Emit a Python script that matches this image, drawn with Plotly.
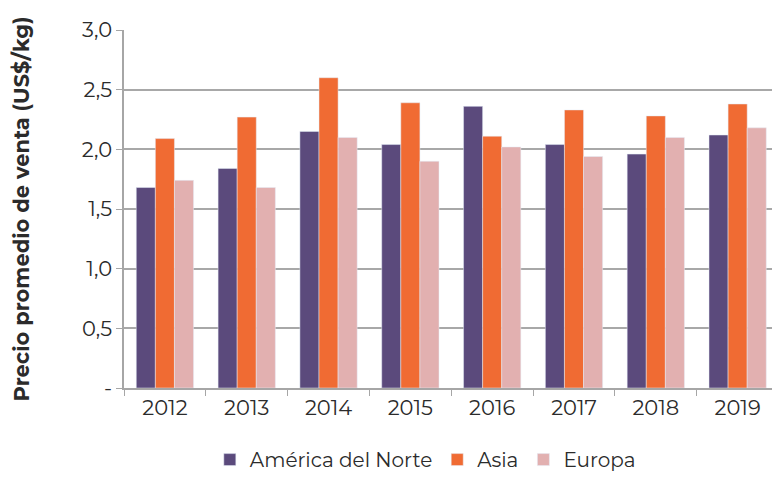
import plotly.graph_objects as go

years = ["2012", "2013", "2014", "2015", "2016", "2017", "2018", "2019"]
america_norte = [1.68, 1.84, 2.15, 2.04, 2.36, 2.04, 1.96, 2.12]
asia = [2.09, 2.27, 2.60, 2.39, 2.11, 2.33, 2.28, 2.38]
europa = [1.74, 1.68, 2.10, 1.90, 2.02, 1.94, 2.10, 2.18]

y_tickvals = [0, 0.5, 1.0, 1.5, 2.0, 2.5, 3.0]
y_ticktext = ["-", "0,5", "1,0", "1,5", "2,0", "2,5", "3,0"]

FONT = "Montserrat, Open Sans, sans-serif"

fig = go.Figure()
fig.add_trace(go.Bar(name="América del Norte", x=years, y=america_norte, marker_color="#5B4A7C"))
fig.add_trace(go.Bar(name="Asia", x=years, y=asia, marker_color="#F06B33"))
fig.add_trace(go.Bar(name="Europa", x=years, y=europa, marker_color="#E2B0B0"))

fig.update_layout(
    width=772, height=498,
    margin=dict(l=124, r=0, t=30, b=110, autoexpand=False),
    paper_bgcolor="white", plot_bgcolor="white",
    barmode="group", bargap=0.3, bargroupgap=0,
    font=dict(family=FONT, size=20, color="#2b2b2b"),
    legend=dict(orientation="h", x=0.465, xanchor="center", y=-0.2, yanchor="middle",
                font=dict(size=20, color="#2b2b2b"), itemwidth=30, tracegroupgap=0),
    showlegend=True,
)
fig.update_xaxes(
    range=[-0.5, 7.42], showline=True, linecolor="#a6a6a6", linewidth=1.5,
    ticks="outside", tickson="boundaries", ticklen=6, tickcolor="#a6a6a6",
    tickfont=dict(size=21), showgrid=False, automargin=False,
)
fig.update_yaxes(
    range=[0, 3.0], tickvals=y_tickvals, ticktext=y_ticktext,
    showline=True, linecolor="#a6a6a6", linewidth=1.5,
    ticks="outside", ticklen=6, tickcolor="#a6a6a6",
    showgrid=True, gridcolor="#a8a8a8", gridwidth=1.5,
    zeroline=False, tickfont=dict(size=21), automargin=False,
    title=dict(text="<b>Precio promedio de venta (US$/kg)</b>", font=dict(size=21), standoff=46),
)

fig.write_html("out.html", post_script="document.body.style.margin='0';",
               config={"displayModeBar": False})
